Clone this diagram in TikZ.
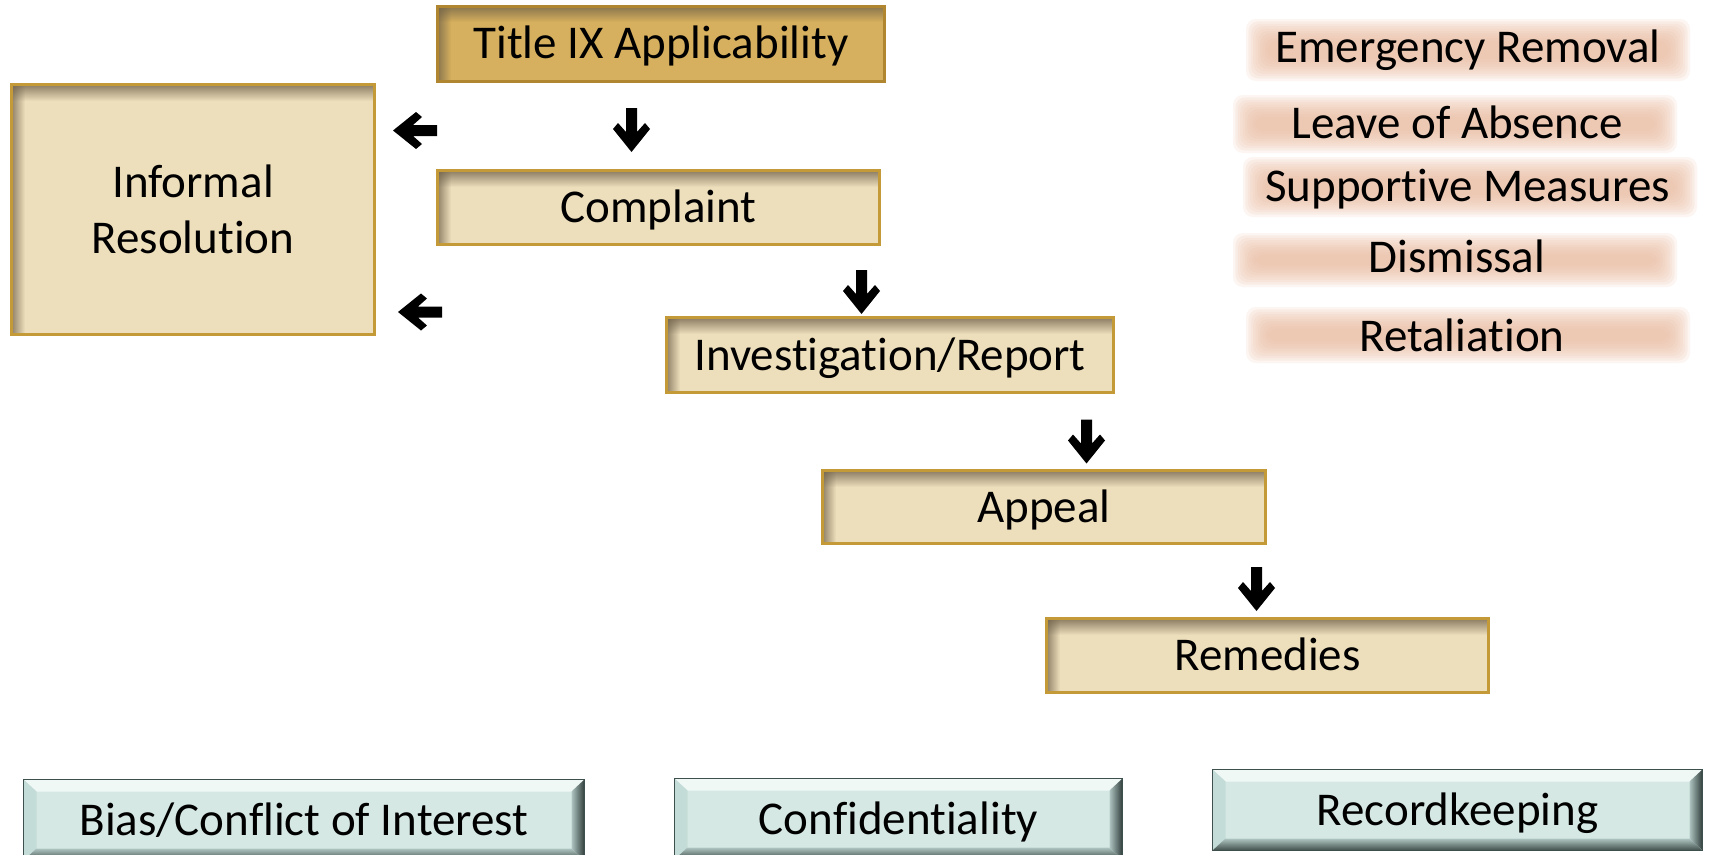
\documentclass[tikz,border=0pt]{standalone}
\usepackage{fontspec}
\setmainfont{Carlito}[Ligatures=NoCommon]
\usetikzlibrary{calc}
\definecolor{goldfill}{RGB}{214,176,94}
\definecolor{goldedge}{RGB}{176,134,48}
\definecolor{tanfill}{RGB}{238,223,188}
\definecolor{tanedge}{RGB}{196,154,56}
\definecolor{shadowc}{RGB}{110,96,72}
\definecolor{tealfill}{RGB}{213,232,228}
\definecolor{tealedge}{RGB}{62,80,78}
\definecolor{tealtop}{RGB}{240,248,246}
\definecolor{tealleft}{RGB}{196,220,215}
\definecolor{tealmid}{RGB}{180,202,198}
\definecolor{tealdark}{RGB}{40,52,50}
\definecolor{bandc}{RGB}{236,190,165}
\tikzset{
  boxfont/.style={font=\fontsize{47}{56}\selectfont},
  tanbox/.style={boxfont, draw=#1edge, line width=3pt, fill=#1fill, inner sep=0pt, outer sep=0pt,
    text height=30pt, text depth=0pt,
    path picture={
      \foreach \k [evaluate=\k as \op using {0.75*(1-\k/16)}] in {0,...,15}{
        \fill[shadowc, opacity=\op] ([yshift=-\k pt]path picture bounding box.north west)
          rectangle ([yshift={-(\k+1.3)*1pt}]path picture bounding box.north east);
      }
      \foreach \k [evaluate=\k as \op using {0.7*(1-\k/13)}] in {0,...,12}{
        \fill[shadowc, opacity=\op] ([xshift=\k pt]path picture bounding box.north west)
          rectangle ([xshift={(\k+1.3)*1pt}]path picture bounding box.south west);
      }
    }},
  tanbox/.default=tan,
  tealbox/.style={boxfont, draw=tealedge, line width=1.5pt, fill=tealfill, inner sep=0pt, outer sep=0pt,
    text height=30pt, text depth=0pt,
    path picture={
      \coordinate (pa) at (path picture bounding box.north west);
      \coordinate (pb) at (path picture bounding box.north east);
      \coordinate (pc) at (path picture bounding box.south east);
      \coordinate (pd) at (path picture bounding box.south west);
      \fill[tealtop] (pa) -- (pb) -- ($(pb)+(-13pt,-12pt)$) -- ($(pa)+(13pt,-12pt)$) -- cycle;
      \fill[tealleft] (pa) -- ($(pa)+(13pt,-12pt)$) -- ($(pd)+(13pt,12pt)$) -- (pd) -- cycle;
      \begin{scope}
        \clip (pb) -- (pc) -- ($(pc)+(-13pt,12pt)$) -- ($(pb)+(-13pt,-12pt)$) -- cycle;
        \fill[tealmid] (pb) rectangle ($(pc)+(-14pt,0pt)$);
        \foreach \k [evaluate=\k as \op using {0.9*(\k+1)/13}] in {0,...,12}{
          \fill[tealdark, opacity=\op] ([xshift={(\k-13)*1pt}]pb) rectangle ([xshift={(\k-11.7)*1pt}]pc);
        }
      \end{scope}
      \begin{scope}
        \clip (pd) -- (pc) -- ($(pc)+(-13pt,12pt)$) -- ($(pd)+(13pt,12pt)$) -- cycle;
        \fill[tealmid] (pd) rectangle ($(pc)+(0pt,14pt)$);
        \foreach \k [evaluate=\k as \op using {0.8*(\k+1)/12}] in {0,...,11}{
          \fill[tealdark, opacity=\op] ([yshift={(12-\k)*1pt}]pd) rectangle ([yshift={(10.7-\k)*1pt}]pc);
        }
      \end{scope}
    }},
  sidelabel/.style={boxfont, inner sep=0pt, text height=30pt, text depth=0pt},
  blockarr/.pic={\fill[black] (-5.5,-22) -- (5.5,-22) -- (5.5,2) -- (13.5,-7) -- (18.5,-1) -- (0,22) -- (-18.5,-1) -- (-13.5,-7) -- (-5.5,2) -- cycle;}
}
\newcommand\blurband[4]{%
  \foreach \k in {0,...,9}{%
    \fill[bandc, fill opacity=0.15, rounded corners=10pt]
      ({#1-#3/2-12+2.4*\k},{#2-#4/2-12+2.4*\k}) rectangle ({#1+#3/2+12-2.4*\k},{#2+#4/2+12-2.4*\k});
  }}
\begin{document}
\begin{tikzpicture}[x=1pt,y=-1pt]
\useasboundingbox[fill=white] (0,0) rectangle (1710,854);

% main flow boxes
\node[tanbox=gold, minimum width=447, minimum height=75] (title) at (661,43.5) {Title IX Applicability};
\node[tanbox, minimum width=363, minimum height=250, align=center, text height=, text depth=] (informal) at (193,209.5) {Informal\\Resolution};
\node[tanbox, minimum width=442, minimum height=74] (complaint) at (658.5,207.5) {Complaint};
\node[tanbox, minimum width=447, minimum height=75] (invest) at (890,355) {Investigation/Report};
\node[tanbox, minimum width=443, minimum height=73] (appeal) at (1044,507) {Appeal};
\node[tanbox, minimum width=442, minimum height=74] (remedies) at (1267.5,655.5) {Remedies};

% block arrows
\pic[rotate=-90] (la1) at (415,130.5) {blockarr};
\pic (da1) at (631.5,130) {blockarr};
\pic[rotate=-90] (la2) at (420,312) {blockarr};
\pic (da2) at (861.5,292) {blockarr};
\pic (da3) at (1086.5,441.5) {blockarr};
\pic (da4) at (1256.5,589) {blockarr};

% side measures
\blurband{1468}{50}{420}{38}
\blurband{1455}{124}{420}{34}
\blurband{1470}{187}{430}{36}
\blurband{1455}{260}{420}{30}
\blurband{1468}{335}{420}{32}
\node[sidelabel] (emerg) at (1468,47.5) {Emergency Removal};
\node[sidelabel] (leave) at (1457,123.5) {Leave of Absence};
\node[sidelabel] (support) at (1467.5,186) {Supportive Measures};
\node[sidelabel] (dismiss) at (1457,257.5) {Dismissal};
\node[sidelabel] (retal) at (1462,336) {Retaliation};

% bottom boxes
\node[tealbox, minimum width=561, minimum height=81] (bias) at (304,820) {Bias/Conflict of Interest};
\node[tealbox, minimum width=448, minimum height=81] (conf) at (898.5,819) {Confidentiality};
\node[tealbox, minimum width=490, minimum height=81] (record) at (1457.5,810) {Recordkeeping};
\end{tikzpicture}
\end{document}
